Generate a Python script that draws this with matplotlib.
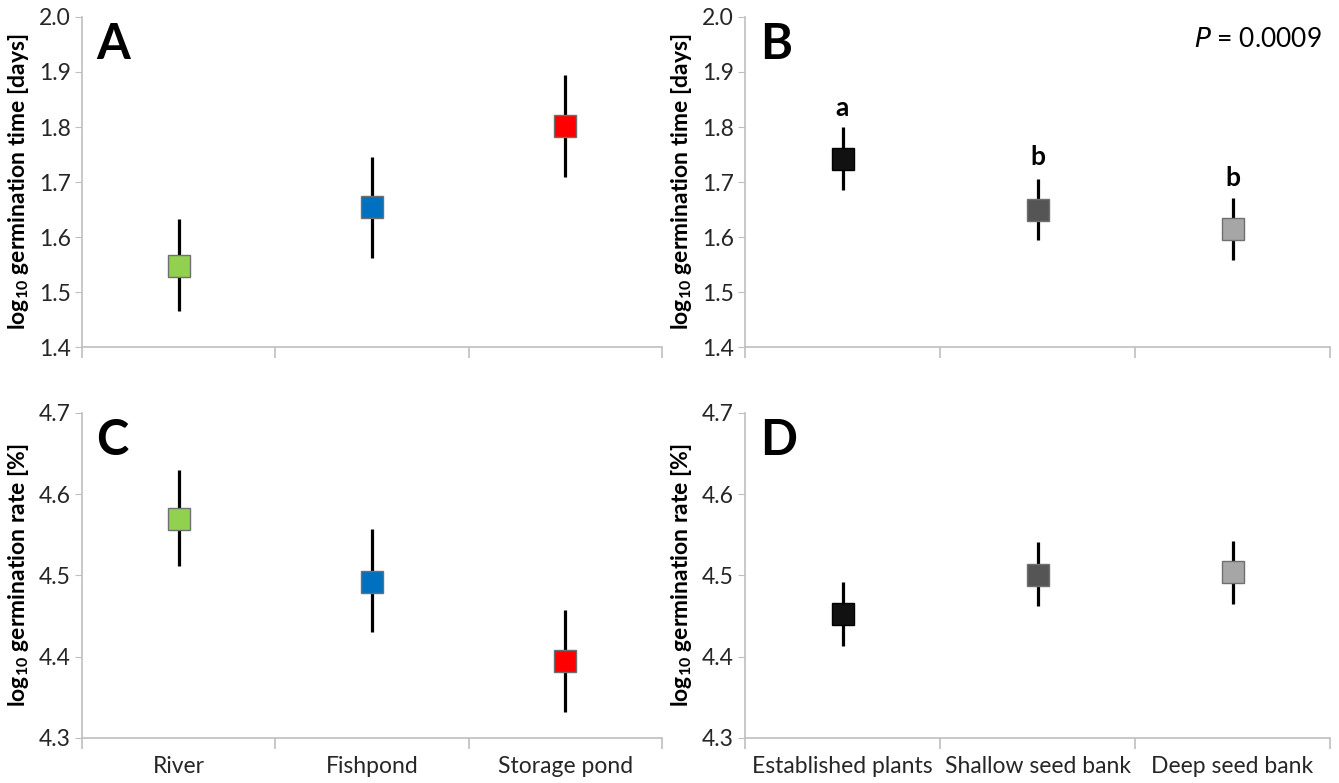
import matplotlib
matplotlib.use("Agg")
import matplotlib.pyplot as plt
import numpy as np

# habitat panels (A, C)
habitats = ["River", "Fishpond", "Storage pond"]
habitat_colors = ["#92d050", "#0070c0", "#ff0000"]
time_hab = [1.547, 1.654, 1.802]
time_hab_lo = [1.465, 1.562, 1.709]
time_hab_hi = [1.632, 1.746, 1.895]
rate_hab = [4.570, 4.492, 4.395]
rate_hab_lo = [4.512, 4.430, 4.332]
rate_hab_hi = [4.630, 4.557, 4.458]

# origin panels (B, D)
origins = ["Established plants", "Shallow seed bank", "Deep seed bank"]
origin_colors = ["#111111", "#555555", "#a6a6a6"]
time_org = [1.742, 1.650, 1.615]
time_org_lo = [1.685, 1.594, 1.558]
time_org_hi = [1.800, 1.706, 1.671]
time_org_letters = ["a", "b", "b"]
time_org_letter_y = [1.835, 1.745, 1.708]
rate_org = [4.452, 4.501, 4.504]
rate_org_lo = [4.413, 4.462, 4.465]
rate_org_hi = [4.492, 4.541, 4.543]

plt.rcParams['font.family'] = ['Lato', 'DejaVu Sans']
plt.rcParams['mathtext.fontset'] = 'custom'
plt.rcParams['mathtext.rm'] = 'Lato'
plt.rcParams['mathtext.bf'] = 'Lato:bold'

fig = plt.figure(figsize=(13.39, 7.83), dpi=100)

axA = fig.add_axes([0.0612, 0.5568, 0.4332, 0.4215])
axB = fig.add_axes([0.5564, 0.5568, 0.4369, 0.4215])
axC = fig.add_axes([0.0612, 0.0575, 0.4332, 0.4151])
axD = fig.add_axes([0.5564, 0.0575, 0.4369, 0.4151])

grey = "#bfbfbf"


def panel(ax, vals, lo, hi, colors, labels, ylim, yticks, ylabel, letter, show_x):
    x = np.arange(len(vals))
    vals = np.array(vals)
    yerr = [vals - np.array(lo), np.array(hi) - vals]
    ax.errorbar(x, vals, yerr=yerr, fmt='none', ecolor='black', elinewidth=2.3,
                capsize=0, zorder=2)
    for xi, v, c in zip(x, vals, colors):
        edge = "#000000" if c == "#111111" else "#6f6f6f"
        ax.plot(xi, v, 's', ms=15.5, mfc=c, mec=edge, mew=1.0, zorder=3)
    ax.set_xlim(-0.5, len(vals) - 0.5)
    ax.set_ylim(*ylim)
    ax.set_yticks(yticks)
    ax.set_yticklabels(["%.1f" % t for t in yticks])
    for s in ["top", "right"]:
        ax.spines[s].set_visible(False)
    for s in ["left", "bottom"]:
        ax.spines[s].set_color(grey)
        ax.spines[s].set_linewidth(1.2)
    ax.tick_params(axis='y', direction='out', length=5, color=grey, labelsize=16.5,
                   labelcolor='#262626', pad=3)
    ax.set_xticks(x)
    ax.set_xticks(np.arange(len(vals) + 1) - 0.5, minor=True)
    ax.tick_params(axis='x', which='major', length=0, labelsize=16.5,
                   labelcolor='#262626', pad=13)
    ax.tick_params(axis='x', which='minor', direction='out', length=8, color=grey,
                   width=1.2)
    if show_x:
        ax.set_xticklabels(labels)
    else:
        ax.set_xticklabels([])
    ax.set_ylabel(ylabel, fontsize=16.5, fontweight='bold')
    ax.yaxis.set_label_coords(-0.088, 0.5)
    ax.text(0.025, 0.985, letter, transform=ax.transAxes, fontsize=35,
            fontweight='bold', va='top', ha='left')


time_label = r'$\mathbf{log_{10}}$ germination time [days]'
rate_label = r'$\mathbf{log_{10}}$ germination rate [%]'

panel(axA, time_hab, time_hab_lo, time_hab_hi, habitat_colors, habitats,
      (1.4, 2.0), np.arange(1.4, 2.01, 0.1), time_label, "A", False)
panel(axB, time_org, time_org_lo, time_org_hi, origin_colors, origins,
      (1.4, 2.0), np.arange(1.4, 2.01, 0.1), time_label, "B", False)
panel(axC, rate_hab, rate_hab_lo, rate_hab_hi, habitat_colors, habitats,
      (4.3, 4.7), np.arange(4.3, 4.71, 0.1), rate_label, "C", True)
panel(axD, rate_org, rate_org_lo, rate_org_hi, origin_colors, origins,
      (4.3, 4.7), np.arange(4.3, 4.71, 0.1), rate_label, "D", True)

for i, (lab, ly) in enumerate(zip(time_org_letters, time_org_letter_y)):
    axB.text(i, ly, lab, ha='center', va='center', fontsize=19, fontweight='bold')

axB.text(0.985, 0.97, r'$\it{P}$ = 0.0009', transform=axB.transAxes,
         ha='right', va='top', fontsize=19)

fig.savefig("out.png", dpi=100)
